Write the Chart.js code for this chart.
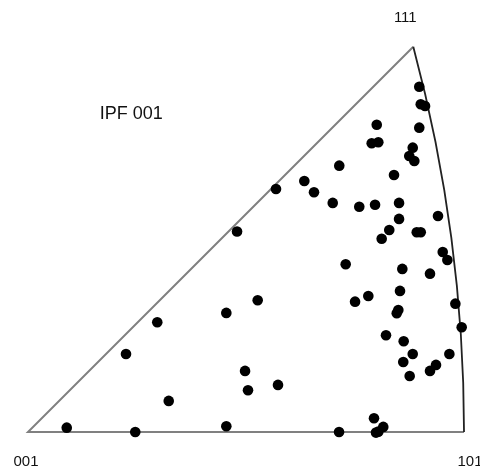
<!DOCTYPE html>
<html lang="en">
<head>
    <meta charset="UTF-8">
    <title>IPF 001</title>
    <script src="https://cdn.jsdelivr.net/npm/chart.js"></script>
    <style>
        html, body { margin: 0; padding: 0; background: #fff; }
        #box { width: 480px; height: 469px; position: relative; }
    </style>
</head>
<body>
<div id="box"><canvas id="ipf"></canvas></div>
<script>
    // stereographic coordinates of the grain orientations (001 at origin, 101 at tan(22.5deg))
    const pointX = [0.3717, 0.3731, 0.3772, 0.3717, 0.3313, 0.3265, 0.3328, 0.3655, 0.3622, 0.3670,
                    0.2957, 0.3477, 0.2625, 0.2717, 0.2356, 0.2895, 0.3147, 0.3297, 0.3525, 0.3895,
                    0.3525, 0.3432, 0.3693, 0.3731, 0.1986, 0.3360, 0.3940, 0.3984, 0.3018, 0.3556,
                    0.3819, 0.3534, 0.3233, 0.3107, 0.4060, 0.2182, 0.1884, 0.3518, 0.3503, 0.1228,
                    0.4120, 0.3401, 0.3569, 0.0931, 0.3655, 0.4003, 0.3565, 0.3876, 0.3819, 0.3626,
                    0.2062, 0.2375, 0.2090, 0.1337, 0.3287, 0.0368, 0.1019, 0.1884, 0.2955, 0.3375,
                    0.3328, 0.3306];
    const pointY = [0.3280, 0.3113, 0.3097, 0.2891, 0.2919, 0.2743, 0.2752, 0.2701, 0.2622, 0.2575,
                    0.2530, 0.2442, 0.2385, 0.2277, 0.2309, 0.2176, 0.2140, 0.2159, 0.2176, 0.2052,
                    0.2024, 0.1919, 0.1897, 0.1897, 0.1905, 0.1835, 0.1710, 0.1634, 0.1593, 0.1549,
                    0.1504, 0.1340, 0.1292, 0.1238, 0.1219, 0.1251, 0.1131, 0.1159, 0.1128, 0.1042,
                    0.0995, 0.0919, 0.0862, 0.0741, 0.0741, 0.0741, 0.0665, 0.0637, 0.0580, 0.0532,
                    0.0580, 0.0447, 0.0396, 0.0295, 0.0130, 0.0041, 0.0000, 0.0054, 0.0000, 0.0048,
                    0.0003, -0.0006];

    // corners of the standard triangle
    const cornerLabels = ['001', '101', '111'];
    const cornerX = [0, Math.SQRT2 - 1, (Math.sqrt(3) - 1) / 2];
    const cornerY = [0, 0, (Math.sqrt(3) - 1) / 2];
    const title = 'IPF 001';

    const points = pointX.map((x, i) => ({ x: x, y: pointY[i] }));

    // draws the triangle outline, labels and title using the chart scales
    const trianglePlugin = {
        id: 'triangle',
        beforeDatasetsDraw(chart) {
            const c = chart.ctx;
            const sx = chart.scales.x, sy = chart.scales.y;
            const px = cornerX.map(v => sx.getPixelForValue(v));
            const py = cornerY.map(v => sy.getPixelForValue(v));

            c.save();
            c.lineWidth = 2;
            c.strokeStyle = '#808080';
            c.beginPath();
            c.moveTo(px[1], py[1]);
            c.lineTo(px[0], py[0]);
            c.lineTo(px[2], py[2]);
            c.stroke();

            // great circle between 101 and 111: centre (-1,0), radius sqrt(2)
            const cx = sx.getPixelForValue(-1);
            const cy = sy.getPixelForValue(0);
            const r = px[1] - cx;
            c.strokeStyle = '#222';
            c.lineWidth = 1.8;
            c.beginPath();
            c.arc(cx, cy, r, 0, -Math.PI / 12, true);
            c.stroke();

            c.fillStyle = '#111';
            c.textAlign = 'center';
            c.textBaseline = 'middle';
            c.font = '15px "Liberation Sans", Arial, sans-serif';
            c.fillText(cornerLabels[0], px[0] - 2, py[0] + 30);
            c.fillText(cornerLabels[1], px[1] + 6, py[1] + 30);
            c.fillText(cornerLabels[2], px[2] - 8, py[2] - 29);

            c.font = '18px "Liberation Sans", Arial, sans-serif';
            c.fillText(title, sx.getPixelForValue(0.0981), sy.getPixelForValue(0.3024));
            c.restore();
        }
    };

    const ctx = document.getElementById('ipf').getContext('2d');
    new Chart(ctx, {
        type: 'scatter',
        data: {
            datasets: [{
                data: points,
                backgroundColor: '#000',
                borderColor: '#000',
                borderWidth: 0,
                pointRadius: 5.3,
                pointHoverRadius: 5.3,
                clip: false
            }]
        },
        options: {
            responsive: true,
            maintainAspectRatio: false,
            animation: false,
            layout: { padding: 0, autoPadding: false },
            plugins: {
                legend: { display: false },
                tooltip: { enabled: false }
            },
            scales: {
                x: { type: 'linear', display: false, min: -0.0266, max: 0.4294 },
                y: { type: 'linear', display: false, min: -0.0352, max: 0.4104 }
            }
        },
        plugins: [trianglePlugin]
    });
</script>
</body>
</html>
